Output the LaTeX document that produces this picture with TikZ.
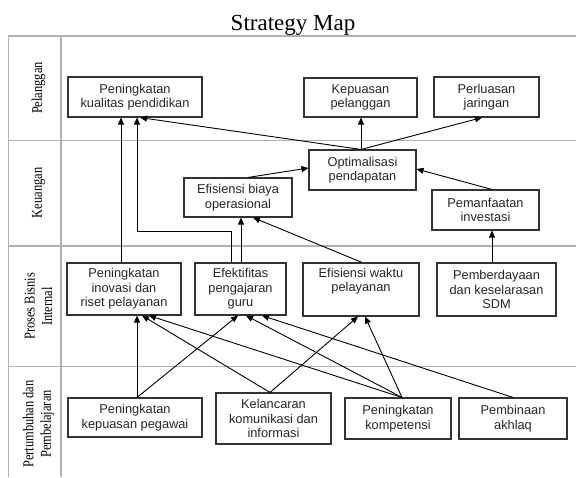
\documentclass[tikz,border=0pt]{standalone}
\usepackage{fontspec}
\setmainfont{Liberation Serif}
\newfontfamily\boxfont{Liberation Sans}
\newfontfamily\lanefont[FakeStretch=0.83]{Liberation Serif}
\usetikzlibrary{arrows.meta,calc}
\begin{document}
\begin{tikzpicture}[x=1pt,y=-1pt,
  grid/.style={draw=black!30, line width=1.4pt},
  box/.style={draw=black!80, line width=1.1pt, inner sep=0pt, align=center,
    font=\boxfont\fontsize{12.8}{14.5}\selectfont, text=black!85},
  lane/.style={rotate=90, align=center, inner sep=0pt, font=\lanefont\fontsize{15}{17.5}\selectfont},
  link/.style={draw=black, line width=0.9pt, -{Triangle[length=7pt,width=6pt]}},
  ]
\useasboundingbox (0,0) rectangle (576,477);
% title
\node[anchor=base, font=\fontsize{23}{26}\selectfont] (title) at (293,30) {Strategy Map};
% table lines
\draw[grid] (8.3,36) -- (576,36);
\draw[grid] (8.3,140.7) -- (576,140.7);
\draw[grid] (8.3,246) -- (576,246);
\draw[grid] (8.3,366.7) -- (576,366.7);
\draw[grid] (8.3,36) -- (8.3,477);
\draw[grid] (61,36) -- (61,477);
% lane labels
\node[lane] (l1) at (38.5,88) {Pelanggan};
\node[lane] (l2) at (38.5,193) {Keuangan};
\node[lane] (l3) at (38.5,306.5) {Proses Bisnis\\Internal};
\node[lane] (l4) at (38.5,424) {Pertumbuhan dan\\Pembelajaran};
% boxes
\node[box, minimum width=134pt, minimum height=40pt] (kualitas) at (135,97) {Peningkatan\\kualitas pendidikan};
\node[box, minimum width=113pt, minimum height=39pt] (kepuasanpel) at (360.5,97.5) {Kepuasan\\pelanggan};
\node[box, minimum width=105pt, minimum height=40pt] (perluasan) at (486.5,97) {Perluasan\\jaringan};
\node[box, minimum width=107pt, minimum height=40pt] (optimalisasi) at (362.5,170) {Optimalisasi\\pendapatan};
\node[box, minimum width=108pt, minimum height=39pt] (efbiaya) at (238,197.5) {Efisiensi biaya\\operasional};
\node[box, minimum width=107pt, minimum height=40pt] (pemanfaatan) at (485.5,210) {Pemanfaatan\\investasi};
\node[box, minimum width=114pt, minimum height=52pt] (inovasi) at (124,289) {Peningkatan\\inovasi dan\\riset pelayanan};
\node[box, minimum width=91pt, minimum height=52pt] (efektifitas) at (240.5,289) {Efektifitas\\pengajaran\\guru};
\node[box, minimum width=116pt, minimum height=53pt] (efwaktu) at (361,289.5) {Efisiensi waktu\\pelayanan\\\strut};
\node[box, minimum width=119pt, minimum height=53pt] (pemberdayaan) at (496.5,289.5) {Pemberdayaan\\dan keselarasan\\SDM};
\node[box, minimum width=134pt, minimum height=39pt] (kepuasanpeg) at (135,417.5) {Peningkatan\\kepuasan pegawai};
\node[box, minimum width=115pt, minimum height=51pt] (kelancaran) at (273.5,418.5) {Kelancaran\\komunikasi dan\\informasi};
\node[box, minimum width=106pt, minimum height=41pt] (kompetensi) at (398,418.5) {Peningkatan\\kompetensi};
\node[box, minimum width=108pt, minimum height=41pt] (pembinaan) at (513,418.5) {Pembinaan\\akhlaq};
% upper connectors
\draw[link] ($(inovasi.north)+(-3,0)$) -- ($(kualitas.south)+(-14,0)$);
\draw[link] ($(efektifitas.north)+(-9.5,0)$) -- ++(0,-31) -| ($(kualitas.south)+(2,0)$);
\draw[link] ($(efektifitas.north)+(0.5,0)$) -- ($(efbiaya.south)+(3,0)$);
\draw[link] ($(efwaktu.north)+(1,0)$) -- ($(efbiaya.south)+(15,0)$);
\draw[link] ($(efbiaya.north)+(10,0)$) -- ($(optimalisasi.west)+(0,-2)$);
\draw[link] ($(pemanfaatan.north)+(6.5,0)$) -- ($(optimalisasi.east)+(0,-1)$);
\draw[link] ($(pemberdayaan.north)+(-4.5,0)$) -- ($(pemanfaatan.south)+(6.5,0)$);
\draw[link] ($(optimalisasi.north)+(-1.5,0)$) -- ($(kepuasanpel.south)+(0.5,0)$);
\draw[link] ($(optimalisasi.north)+(-1.5,0)$) -- ($(perluasan.south)+(-4.5,0)$);
\draw[link] ($(optimalisasi.north)+(-1.5,0)$) -- ($(kualitas.south)+(5,0)$);
% lower connectors
\draw[link] ($(kepuasanpeg.north)+(2,0)$) -- ($(inovasi.south)+(13,0)$);
\draw[link] ($(kepuasanpeg.north)+(2,0)$) -- ($(efektifitas.south)+(-2.5,0)$);
\draw[link] ($(kelancaran.north)+(-3.5,0)$) -- ($(inovasi.south)+(18,0)$);
\draw[link] ($(kelancaran.north)+(-3.5,0)$) -- ($(efwaktu.south)+(-3,0)$);
\draw[link] ($(kompetensi.north)+(4,0)$) -- ($(inovasi.south)+(25,0)$);
\draw[link] ($(kompetensi.north)+(4,0)$) -- ($(efektifitas.south)+(5.5,0)$);
\draw[link] ($(kompetensi.north)+(4,0)$) -- ($(efwaktu.south)+(4,0)$);
\draw[link] (pembinaan.north) -- ($(efektifitas.south)+(21.5,0)$);
\end{tikzpicture}
\end{document}
